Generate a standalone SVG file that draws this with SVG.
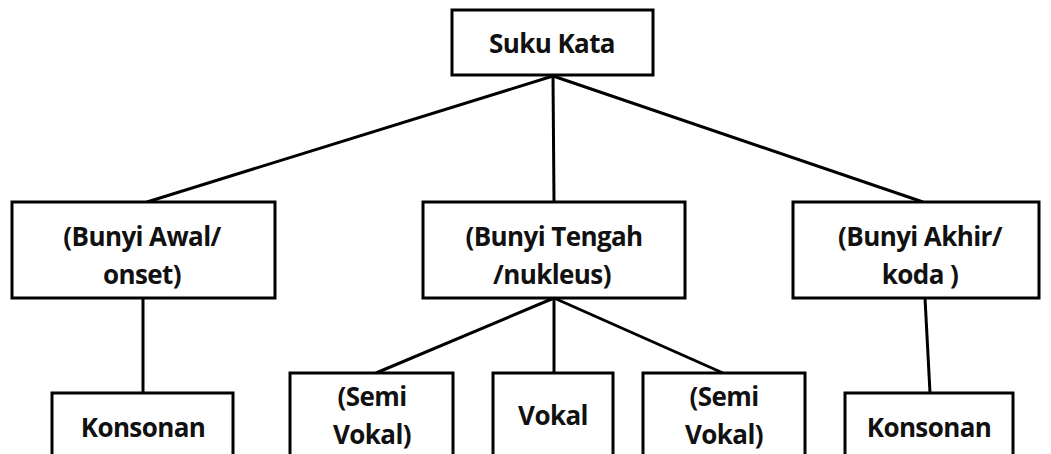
<svg xmlns="http://www.w3.org/2000/svg" width="1051" height="454" viewBox="0 0 1051 454">
<style>
.box{fill:#fff;stroke:#000;stroke-width:3}
.t{font-family:"Open Sans","Liberation Sans",sans-serif;font-weight:bold;font-size:26px;letter-spacing:-0.6px;fill:#111;text-anchor:middle}
.c{stroke:#000;stroke-width:3;fill:none}
</style>
<rect width="1051" height="454" fill="#fff"/>
<g id="connectors">
<line class="c" x1="553" y1="76" x2="147" y2="202"/>
<line class="c" x1="553" y1="76" x2="554" y2="202"/>
<line class="c" x1="553" y1="76" x2="923" y2="202"/>
<line class="c" x1="143" y1="298" x2="143" y2="393"/>
<line class="c" x1="554" y1="298" x2="376" y2="373"/>
<line class="c" x1="554" y1="298" x2="554" y2="373"/>
<line class="c" x1="554" y1="298" x2="723" y2="373"/>
<line class="c" x1="925" y1="298" x2="930" y2="393"/>
</g>
<g id="suku-kata"><rect class="box" x="452" y="10" width="201" height="65"/><text class="t" x="552" y="53">Suku Kata</text></g>
<g id="awal"><rect class="box" x="12" y="202" width="263" height="96"/><text class="t" x="142" y="246">(Bunyi Awal/</text><text class="t" x="142" y="284">onset)</text></g>
<g id="tengah"><rect class="box" x="423" y="202" width="262" height="96"/><text class="t" x="554" y="246">(Bunyi Tengah</text><text class="t" x="552" y="284">/nukleus)</text></g>
<g id="akhir"><rect class="box" x="793" y="202" width="246" height="96"/><text class="t" x="920" y="246">(Bunyi Akhir/</text><text class="t" x="920" y="284">koda )</text></g>
<g id="konsonan1"><rect class="box" x="52" y="393" width="181" height="70"/><text class="t" x="143" y="437">Konsonan</text></g>
<g id="semi1"><rect class="box" x="290" y="373" width="163" height="90"/><text class="t" x="372" y="406">(Semi</text><text class="t" x="372" y="444">Vokal)</text></g>
<g id="vokal"><rect class="box" x="493" y="373" width="120" height="90"/><text class="t" x="553" y="425">Vokal</text></g>
<g id="semi2"><rect class="box" x="643" y="373" width="162" height="90"/><text class="t" x="724" y="406">(Semi</text><text class="t" x="724" y="444">Vokal)</text></g>
<g id="konsonan2"><rect class="box" x="845" y="393" width="168" height="70"/><text class="t" x="929" y="437">Konsonan</text></g>
</svg>
